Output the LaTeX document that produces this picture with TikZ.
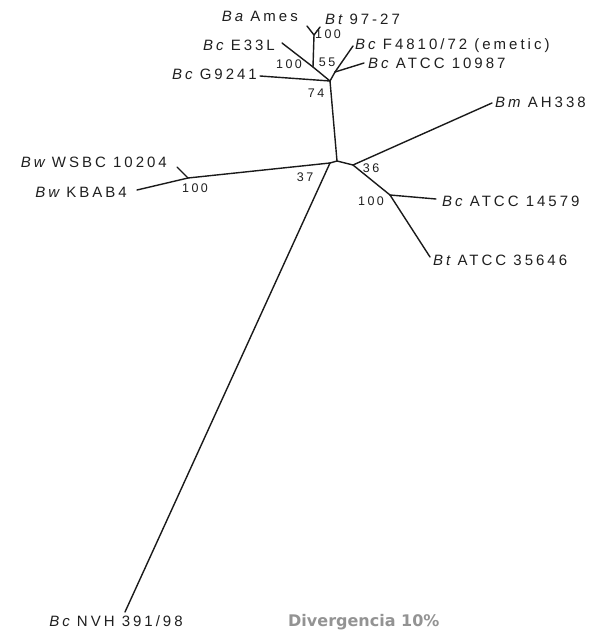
\documentclass[tikz,border=0pt]{standalone}
\usepackage{fontspec}
\setmainfont{Liberation Sans}
\newfontfamily\labfont[LetterSpace=20]{Liberation Sans}
\newfontfamily\divfont{DejaVu Sans}
\definecolor{branchcol}{HTML}{1A1A1A}
\definecolor{divcol}{HTML}{939393}
\tikzset{
  br/.style={line width=1.4pt, draw=branchcol, line cap=round},
  lab/.style={inner sep=0pt, font=\labfont\fontsize{15}{18}\selectfont, text height=10.7pt, text depth=0pt, text=black!88},
  labR/.style={lab, anchor=west},
  labL/.style={lab, anchor=east},
  boot/.style={inner sep=0pt, font=\labfont\fontsize{12.5}{15}\selectfont, text height=9pt, text depth=0pt, text=black!88},
}
\begin{document}
\begin{tikzpicture}[x=1pt, y=-1pt]
\useasboundingbox (0,0) rectangle (593,634);
% internal nodes
\coordinate (A) at (330,163);
\coordinate (B) at (337,161);
\coordinate (D) at (353,165);
\coordinate (E) at (390,195);
\coordinate (F) at (330,81);
\coordinate (G) at (335,72);
\coordinate (H) at (313,67);
\coordinate (I) at (314,35);
\coordinate (J) at (188,178);
% leaf ends
\coordinate (ba) at (307,26);
\coordinate (bt) at (320,27);
\coordinate (e33) at (282,43);
\coordinate (g92) at (260,76);
\coordinate (f48) at (353,46);
\coordinate (a10) at (364,63);
\coordinate (bm) at (492,103);
\coordinate (a14) at (436,199);
\coordinate (a35) at (430,257);
\coordinate (ws) at (177,167);
\coordinate (kb) at (137,190);
\coordinate (nvh) at (125,612);
% branches
\draw[br] (A) -- (B);
\draw[br] (B) -- (D);
\draw[br] (B) -- (F);
\draw[br] (A) -- (J);
\draw[br] (A) -- (nvh);
\draw[br] (J) -- (ws);
\draw[br] (J) -- (kb);
\draw[br] (D) -- (bm);
\draw[br] (D) -- (E);
\draw[br] (E) -- (a14);
\draw[br] (E) -- (a35);
\draw[br] (F) -- (g92);
\draw[br] (F) -- (G);
\draw[br] (G) -- (f48);
\draw[br] (G) -- (a10);
\draw[br] (F) -- (H);
\draw[br] (H) -- (e33);
\draw[br] (H) -- (I);
\draw[br] (I) -- (ba);
\draw[br] (I) -- (bt);
% leaf labels
\node[labL] (lba) at (298,16) {\itshape Ba\upshape{} Ames};
\node[labR] (lbt) at (325,19) {\itshape Bt\upshape{} 97-27};
\node[labL] (le33) at (275,45) {\itshape Bc\upshape{} E33L};
\node[labL] (lg92) at (257,74) {\itshape Bc\upshape{} G9241};
\node[labR] (lf48) at (355,44) {\itshape Bc\upshape{} F4810/72 (emetic)};
\node[labR] (la10) at (368,63) {\itshape Bc\upshape{} ATCC 10987};
\node[labR] (lbm) at (495,102) {\itshape Bm\upshape{} AH338};
\node[labR] (la14) at (442,201) {\itshape Bc\upshape{} ATCC 14579};
\node[labR] (la35) at (433,260) {\itshape Bt\upshape{} ATCC 35646};
\node[labL] (lws) at (167,162) {\itshape Bw\upshape{} WSBC 10204};
\node[labL] (lkb) at (127,192) {\itshape Bw\upshape{} KBAB4};
\node[lab, anchor=center] (lnvh) at (116,621) {\itshape Bc\upshape{} NVH 391/98};
% bootstrap values
\node[boot] (b1) at (328,34) {100};
\node[boot] (b2) at (289,64) {100};
\node[boot] (b3) at (327,62) {55};
\node[boot] (b4) at (316,93) {74};
\node[boot] (b5) at (305,177) {37};
\node[boot] (b6) at (371,168) {36};
\node[boot] (b7) at (371,201) {100};
\node[boot] (b8) at (195,188) {100};
% scale text
\node[anchor=west, inner sep=0pt, font=\divfont\bfseries\fontsize{16}{19}\selectfont, text=divcol, text height=11.7pt, text depth=0pt] (div) at (288,621) {Divergencia 10\%};
\end{tikzpicture}
\end{document}
